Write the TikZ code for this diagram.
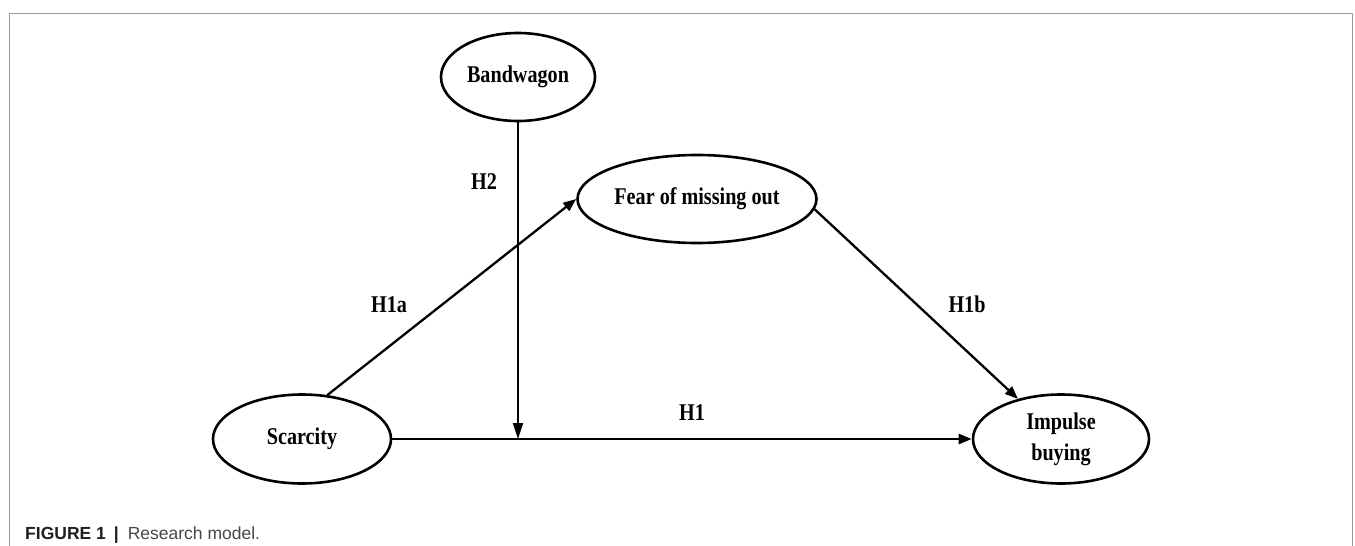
\documentclass[tikz,border=0pt]{standalone}
\usepackage{fontspec}
\setmainfont{Liberation Serif}
\newfontfamily\nodefont{Liberation Serif}[FakeStretch=0.84]
\newfontfamily\capfont{Liberation Sans}
\usetikzlibrary{shapes.geometric,arrows.meta}
\begin{document}
\begin{tikzpicture}[x=1pt,y=-1pt,
  latent/.style={ellipse,draw,line width=2.6pt,inner sep=0pt,align=center,
    font=\nodefont\bfseries\fontsize{24}{31}\selectfont},
  hyp/.style={inner sep=0pt,font=\nodefont\bfseries\fontsize{24}{29}\selectfont},
  conn/.style={line width=2.3pt,-{Triangle[length=13pt,width=10pt]}},
  modline/.style={line width=1.9pt,-{Triangle[length=16pt,width=10pt]}},
  frameline/.style={draw=black!40,line width=1pt}]
\useasboundingbox (0,0) rectangle (1355,546);
\draw[frameline] (9,546) -- (9,13) -- (1352,13) -- (1352,546);
% constructs
\node[latent,minimum width=154pt,minimum height=88pt] (bw) at (518,77) {Bandwagon};
\node[latent,minimum width=239pt,minimum height=88pt] (fomo) at (697,199) {Fear of missing out};
\node[latent,minimum width=178pt,minimum height=89pt] (sc) at (302,439) {Scarcity};
\node[latent,minimum width=176pt,minimum height=89pt] (ib) at (1061,439) {Impulse\\buying};
% paths
\coordinate (mid) at (bw.south |- sc.east);
\draw[conn,line width=2.6pt] (sc.east) -- (ib.west);
\draw[modline] (bw.south) -- (mid);
\draw[conn] (sc.60) -- (fomo.west);
\draw[conn] (fomo.-5) -- (ib);
% labels
\node[hyp] (h2) at (484,182) {H2};
\node[hyp] (h1a) at (389,305) {H1a};
\node[hyp] (h1) at (692,413) {H1};
\node[hyp] (h1b) at (967,304) {H1b};
% caption
\node[anchor=base west,inner sep=0pt,font=\capfont\fontsize{17.5}{22}\selectfont,text=black!88] (cap) at (25,539)
  {\bfseries FIGURE 1\hspace{8pt}|\hspace{9pt}\mdseries\color{black!72}Research model.};
\end{tikzpicture}
\end{document}
